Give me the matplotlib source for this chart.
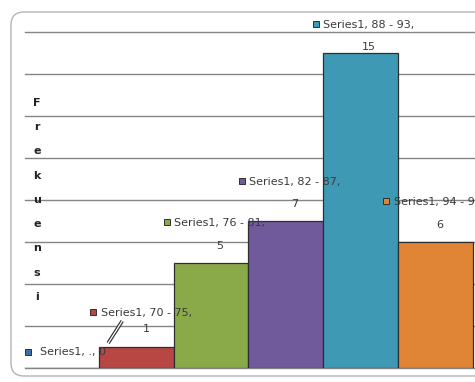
import matplotlib
matplotlib.use("Agg")
import matplotlib.pyplot as plt
from matplotlib.patches import FancyBboxPatch
from matplotlib.transforms import offset_copy
import matplotlib.patheffects as pe

# data
series_name = "Series1"
categories = [".", "70 - 75", "76 - 81", "82 - 87", "88 - 93", "94 - 99"]
frequencies = [0, 1, 5, 7, 15, 6]
bar_colors = ["#3F6FA8", "#B84743", "#8AAA4A", "#715A9C", "#3E9AB4", "#E08535"]
gridlines = [0, 2, 4, 6, 8, 10, 12, 14, 16]
ylabel = "Frekuensi"

W, H = 475, 382
fig = plt.figure(figsize=(W / 100, H / 100), dpi=100)
fig.patch.set_facecolor("white")

# rounded chart frame (display pixels)
frame = FancyBboxPatch((11, 6), 520, 364, boxstyle="round,pad=0,rounding_size=13",
                       transform=None, facecolor="none", edgecolor="#b4b4b4", lw=1.0)
fig.patches.append(frame)

px_unit = 74.8
ax_left, ax_right = 24, 475
ax_bottom, ax_h = 14, 336
ax = fig.add_axes([ax_left / W, ax_bottom / H, (ax_right - ax_left) / W, ax_h / H])
ax.set_xlim(-0.5, -0.5 + (ax_right - ax_left) / px_unit)
ax.set_ylim(0, 16)
ax.axis("off")

for g in gridlines:
    ax.axhline(g, xmin=1 / (ax_right - ax_left), color="#858585", lw=1.0,
               zorder=0, clip_on=False)

x = list(range(len(categories)))
ax.bar(x, frequencies, width=1.0, color=bar_colors, edgecolor="#2e2e2e",
       lw=0.9, zorder=2)

font = ["Liberation Sans Narrow", "DejaVu Sans"]
tcol = "#3a3a3a"
fs = 8

# label layout: (text-centre dx, line-1 dy, value dy) in pixels from bar top centre
layout = [None, (10, 34, 18), (9, 40, 17), (9, 39, 17), (8.5, 28, 6), (4, 40, 17)]
half_w = 42
msize = 5.0

for i, (cat, val, col) in enumerate(zip(categories, frequencies, bar_colors)):
    if layout[i] is None:
        # single-line label at the left of the baseline
        tr = offset_copy(ax.transData, fig=fig, x=-21.5, y=16, units="dots")
        ax.text(i, val, f"{series_name}, {cat}, {val}", transform=tr, ha="left",
                va="center", fontsize=fs, family=font, color=tcol, zorder=5)
        trm = offset_copy(ax.transData, fig=fig, x=-33.5, y=16, units="dots")
        ax.plot([i], [val], marker="s", ms=msize, mfc=col, mec="#303030", mew=0.7,
                transform=trm, clip_on=False, zorder=5)
        continue
    dx, dy1, dy2 = layout[i]
    tr1 = offset_copy(ax.transData, fig=fig, x=dx, y=dy1, units="dots")
    ax.text(i, val, f"{series_name}, {cat},", transform=tr1, ha="center", va="center",
            fontsize=fs, family=font, color=tcol, zorder=5, clip_on=False)
    tr2 = offset_copy(ax.transData, fig=fig, x=dx, y=dy2, units="dots")
    ax.text(i, val, f"{val}", transform=tr2, ha="center", va="center",
            fontsize=fs, family=font, color=tcol, zorder=5, clip_on=False)
    trm = offset_copy(ax.transData, fig=fig, x=dx - half_w - 11, y=dy1 + 1, units="dots")
    ax.plot([i], [val], marker="s", ms=msize, mfc=col, mec="#303030", mew=0.7,
            transform=trm, clip_on=False, zorder=5)

# leader line from the small bar to its label
tr_a = offset_copy(ax.transData, fig=fig, x=-28, y=4, units="dots")
tr_b = offset_copy(ax.transData, fig=fig, x=-14, y=26, units="dots")
p0 = tr_a.transform((1, frequencies[1]))
p1 = tr_b.transform((1, frequencies[1]))
ax.plot([p0[0], p1[0]], [p0[1], p1[1]], transform=None, color="#303030", lw=2.6,
        solid_capstyle="butt", zorder=4,
        path_effects=[pe.Stroke(linewidth=2.6, foreground="#303030"),
                      pe.Stroke(linewidth=0.9, foreground="white")])

# stacked vertical axis title
for k, ch in enumerate(ylabel):
    fig.text(37 / W, 1 - (103 + 24.25 * k) / H, ch, ha="center", va="center",
             fontsize=8, fontweight="bold", family=font, color="#222222")

fig.savefig("out.png", dpi=100)
